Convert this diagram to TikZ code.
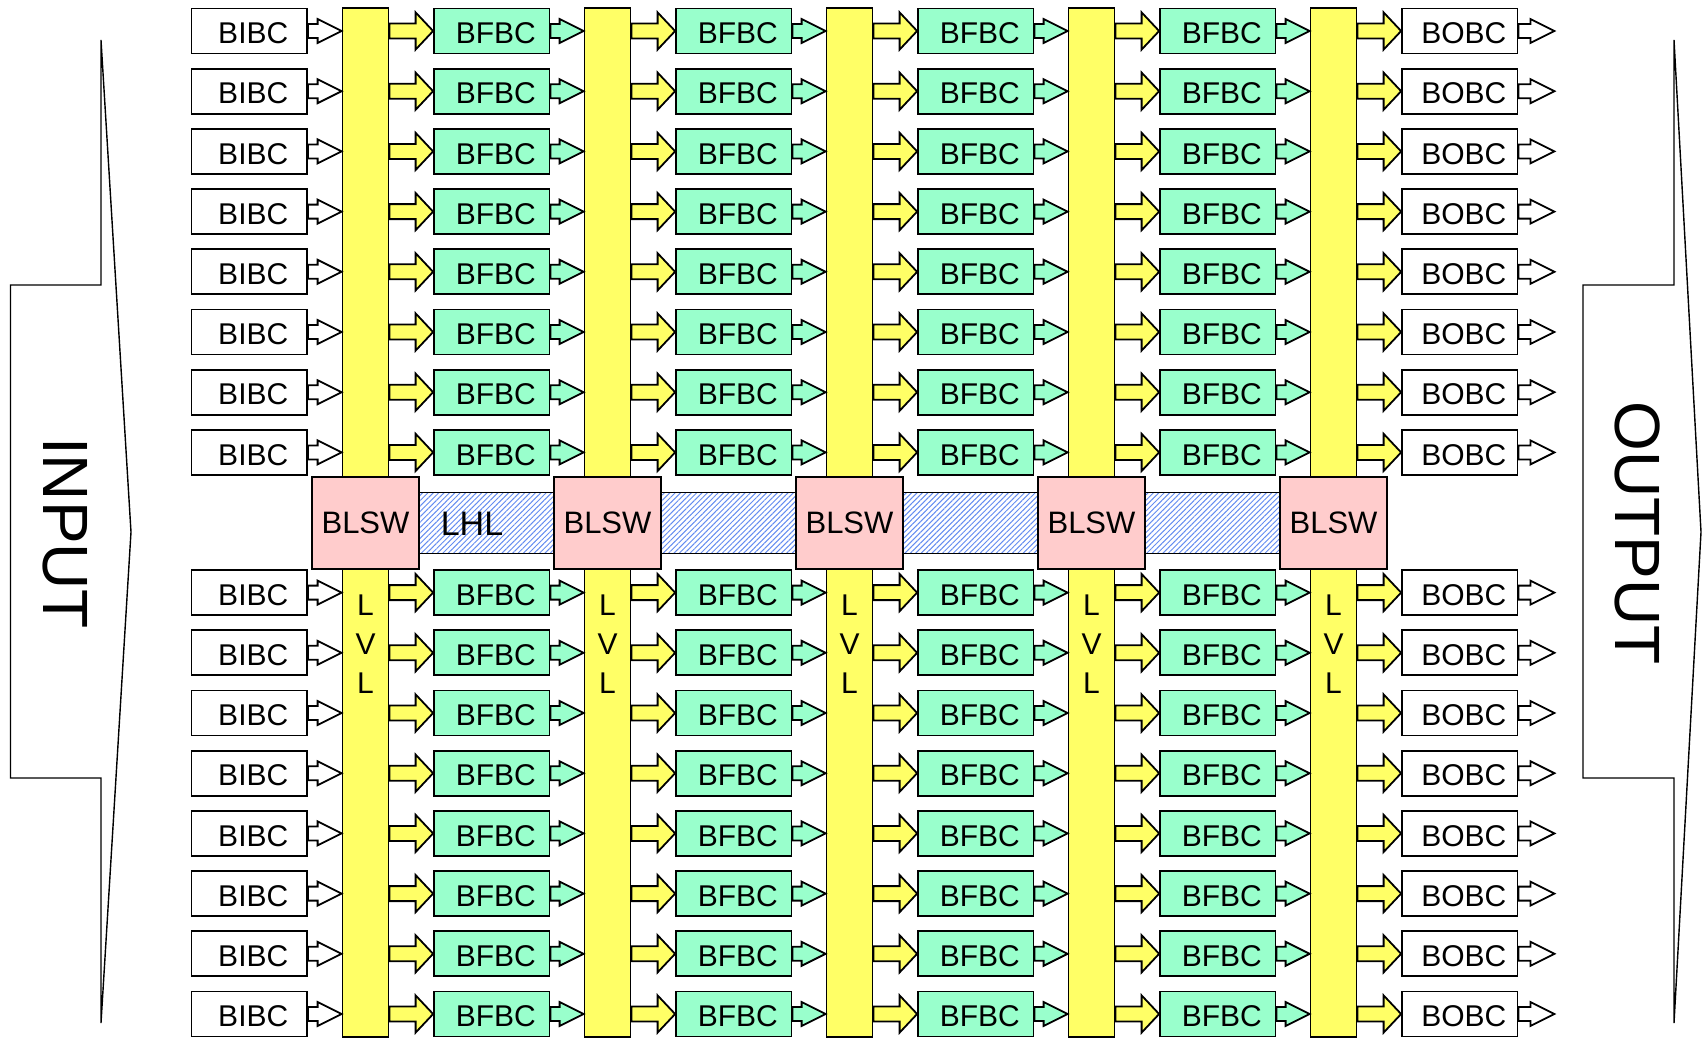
\documentclass[tikz,border=0pt]{standalone}
\usepackage{fontspec}
\setmainfont{Liberation Sans}
\usetikzlibrary{positioning,calc,patterns.meta}

\definecolor{lvlyellow}{RGB}{255,255,102}
\definecolor{fbcgreen}{RGB}{153,255,204}
\definecolor{swpink}{RGB}{255,204,204}
\definecolor{hatchblue}{RGB}{100,140,240}

\begin{document}
\begin{tikzpicture}[
    x = 0.5pt,
    y = -0.5pt,
    every node/.style = {
        font = \fontsize{15}{19.5}\selectfont
    },
    cbox/.style = {
        rectangle,
        minimum width = 57.75pt,
        minimum height = 22.5pt,
        inner sep = 0pt,
        text height = 12.7pt,
        text depth = 0pt,
        draw = black,
        line width = 0.9pt
    },
    inbox/.style = {cbox, fill = white},
    fbox/.style = {cbox, fill = fbcgreen},
    outbox/.style = {cbox, fill = white},
    lvl/.style = {
        rectangle,
        minimum width = 23pt,
        minimum height = 514.2pt,
        inner sep = 0pt,
        draw = black,
        line width = 0.9pt,
        fill = lvlyellow
    },
    blsw/.style = {
        rectangle,
        minimum width = 53.3pt,
        minimum height = 45.7pt,
        inner sep = 0pt,
        draw = black,
        line width = 0.9pt,
        fill = swpink,
        font = \fontsize{15.5}{19}\selectfont
    },
    lhl/.style = {
        draw = black,
        line width = 0.6pt,
        pattern = {Lines[angle = 45, distance = 1.9pt, line width = 0.5pt]},
        pattern color = hatchblue
    },
    barrow/.style n args = {3}{
        to path = {
            let \p1 = (\tikztostart), \p2 = (\tikztotarget) in
            (\x1,\y1+#1) -- (\x2-#3,\y1+#1) -- (\x2-#3,\y1+#2) -- (\x2,\y1)
            -- (\x2-#3,\y1-#2) -- (\x2-#3,\y1-#1) -- (\x1,\y1-#1) -- cycle
        }
    },
    slimhead/.style = {barrow = {3.5pt}{6pt}{12pt}},
    widehead/.style = {barrow = {3.75pt}{9.3pt}{8.75pt}},
    warrow/.style = {slimhead, draw = black, fill = white, line width = 0.9pt},
    garrow/.style = {slimhead, draw = black, fill = fbcgreen, line width = 0.9pt},
    yarrow/.style = {widehead, draw = black, fill = lvlyellow, line width = 0.9pt},
    bigarrow/.style = {draw = black, line width = 0.7pt, fill = white},
    bigtext/.style = {font = \fontsize{32}{38}\selectfont, rotate = -90}
]
    \useasboundingbox (0,0) rectangle (1702,1039);

    % Input and output arrows
    \draw [bigarrow] (10.5,285) -- (101,285) -- (101,40) -- (131,532)
        -- (101,1023) -- (101,778) -- (10.5,778) -- cycle;
    \node [bigtext] (input) at (65,533) {INPUT};
    \draw [bigarrow] (1583,285) -- (1674,285) -- (1674,40) -- (1701,532)
        -- (1674,1023) -- (1674,778) -- (1583,778) -- cycle;
    \node [bigtext] (output) at (1638,533) {OUTPUT};

    % LVL columns
    \foreach \k in {0,...,4}
        \node [lvl] (c\k) at (365.5+242*\k,522.5) {};

    % LHL band and BLSW switches
    \draw [lhl] (365.5,492.7) rectangle (1333.5,553.3);
    \foreach \k in {0,...,4} {
        \node [blsw] (sw\k) at (365.5+242*\k,523) {BLSW};
        \node [align = center, below = 12.5pt of sw\k, inner sep = 0pt] (vl\k) {L\\V\\L};
    }
    \node [font = \fontsize{17}{20}\selectfont] (lhl) at (472,523.5) {LHL};

    % Rows of blocks
    \foreach \r/\y in {1/31, 2/91.2, 3/151.4, 4/211.6, 5/271.8, 6/332, 7/392.2, 8/452.4,
                       9/592.6, 10/652.8, 11/713, 12/773.2, 13/833.4, 14/893.6, 15/953.8, 16/1014} {
        \node [inbox] (in\r) at (249.25,\y) {\hspace*{4pt}BIBC};
        \coordinate (ie\r) at (c0.west |- in\r.east);
        \draw [warrow] (in\r.east) to (ie\r);
        \foreach \k in {0,...,3} {
            \pgfmathtruncatemacro\n{\k+1}
            \node [fbox] (f\k r\r) at (491.75+242*\k,\y) {\hspace*{4pt}BFBC};
            \coordinate (ys\k r\r) at (c\k.east |- f\k r\r.west);
            \coordinate (ge\k r\r) at (c\n.west |- f\k r\r.east);
            \draw [yarrow] (ys\k r\r) to (f\k r\r.west);
            \draw [garrow] (f\k r\r.east) to (ge\k r\r);
        }
        \node [outbox] (out\r) at (1459.75,\y) {\hspace*{4pt}BOBC};
        \coordinate (os\r) at (c4.east |- out\r.west);
        \coordinate (end\r) at ($(out\r.east)+(36,0)$);
        \draw [yarrow] (os\r) to (out\r.west);
        \draw [warrow] (out\r.east) to (end\r);
    }

\end{tikzpicture}
\end{document}
